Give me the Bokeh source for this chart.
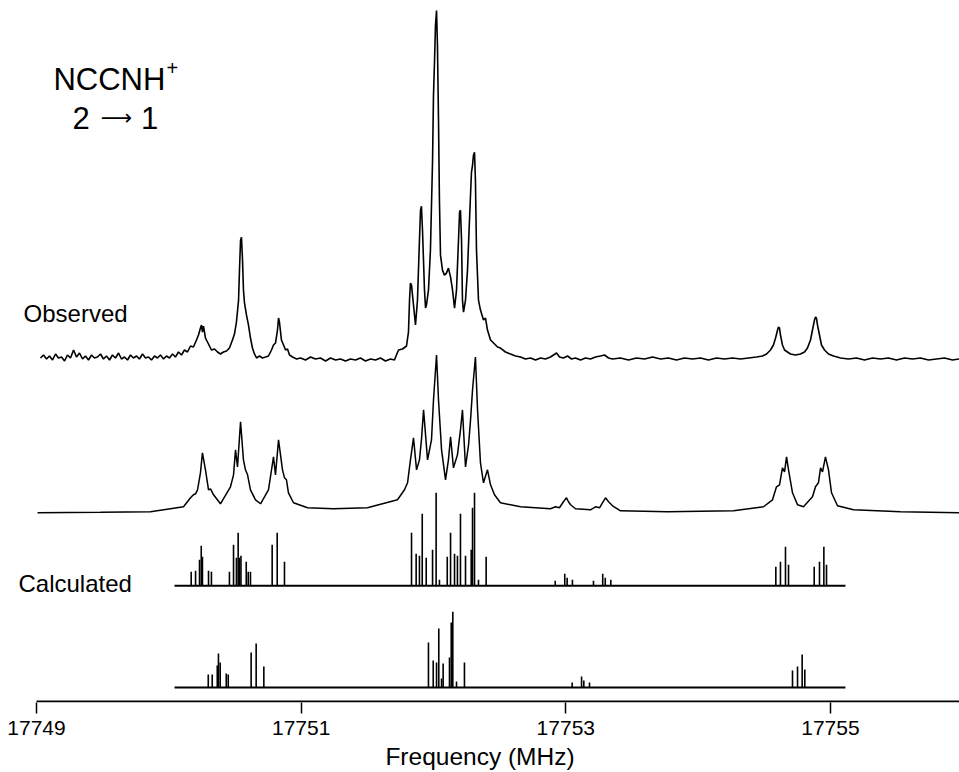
from bokeh.plotting import figure
from bokeh.models import Range1d, Label, FixedTicker
from bokeh.embed import file_html
from bokeh.resources import INLINE

# ---------------- data (frequency in MHz, intensity in arbitrary units) ----------------
tick_values = [17749, 17751, 17753, 17755]
tick_labels = ["17749", "17751", "17753", "17755"]

obs_freq = [
    17749.030, 17749.053, 17749.076, 17749.098, 17749.121, 17749.144, 17749.166, 17749.189,
    17749.212, 17749.234, 17749.257, 17749.280, 17749.302, 17749.325, 17749.348, 17749.370,
    17749.393, 17749.416, 17749.438, 17749.461, 17749.484, 17749.506, 17749.529, 17749.552,
    17749.574, 17749.597, 17749.620, 17749.642, 17749.665, 17749.688, 17749.710, 17749.733,
    17749.756, 17749.778, 17749.801, 17749.824, 17749.846, 17749.869, 17749.892, 17749.914,
    17749.937, 17749.960, 17749.982, 17750.005, 17750.028, 17750.050, 17750.073, 17750.096,
    17750.118, 17750.141, 17750.164, 17750.186, 17750.209, 17750.224, 17750.239, 17750.247,
    17750.254, 17750.262, 17750.277, 17750.292, 17750.307, 17750.322, 17750.345, 17750.368,
    17750.390, 17750.413, 17750.436, 17750.458, 17750.481, 17750.496, 17750.511, 17750.527,
    17750.534, 17750.542, 17750.549, 17750.557, 17750.564, 17750.572, 17750.587, 17750.602,
    17750.617, 17750.632, 17750.647, 17750.663, 17750.685, 17750.708, 17750.731, 17750.753,
    17750.776, 17750.791, 17750.806, 17750.821, 17750.829, 17750.836, 17750.851, 17750.867,
    17750.882, 17750.897, 17750.912, 17750.935, 17750.965, 17750.995, 17751.033, 17751.071,
    17751.108, 17751.146, 17751.184, 17751.222, 17751.260, 17751.297, 17751.335, 17751.373,
    17751.411, 17751.448, 17751.486, 17751.524, 17751.562, 17751.600, 17751.637, 17751.675,
    17751.705, 17751.720, 17751.736, 17751.766, 17751.796, 17751.811, 17751.819, 17751.826,
    17751.834, 17751.849, 17751.864, 17751.879, 17751.894, 17751.902, 17751.909, 17751.917,
    17751.932, 17751.940, 17751.947, 17751.962, 17751.977, 17751.993, 17752.000, 17752.008,
    17752.015, 17752.023, 17752.030, 17752.038, 17752.045, 17752.053, 17752.068, 17752.083,
    17752.098, 17752.113, 17752.129, 17752.144, 17752.159, 17752.174, 17752.189, 17752.197,
    17752.204, 17752.212, 17752.219, 17752.227, 17752.242, 17752.257, 17752.272, 17752.287,
    17752.295, 17752.302, 17752.310, 17752.317, 17752.325, 17752.340, 17752.355, 17752.378,
    17752.393, 17752.408, 17752.431, 17752.454, 17752.484, 17752.506, 17752.544, 17752.582,
    17752.620, 17752.658, 17752.695, 17752.733, 17752.771, 17752.809, 17752.846, 17752.884,
    17752.907, 17752.930, 17752.952, 17752.982, 17753.013, 17753.043, 17753.073, 17753.111,
    17753.149, 17753.187, 17753.224, 17753.262, 17753.292, 17753.323, 17753.353, 17753.413,
    17753.474, 17753.534, 17753.595, 17753.655, 17753.716, 17753.776, 17753.836, 17753.897,
    17753.957, 17754.018, 17754.078, 17754.139, 17754.199, 17754.260, 17754.320, 17754.381,
    17754.441, 17754.486, 17754.517, 17754.547, 17754.569, 17754.585, 17754.600, 17754.607,
    17754.615, 17754.622, 17754.637, 17754.653, 17754.675, 17754.698, 17754.736, 17754.773,
    17754.804, 17754.826, 17754.849, 17754.864, 17754.879, 17754.887, 17754.894, 17754.902,
    17754.917, 17754.932, 17754.955, 17754.985, 17755.023, 17755.076, 17755.136, 17755.197,
    17755.257, 17755.318, 17755.378, 17755.438, 17755.499, 17755.559, 17755.620, 17755.680,
    17755.741, 17755.801, 17755.862, 17755.922, 17755.975,
]
obs_int = [
    0, 3, -1, 2, -2, 4, 0, 1,
    -3, 3, 0, 8, 1, 5, -1, 2,
    -2, 3, 0, 1, 4, -1, 2, -2,
    3, 0, 5, -1, 1, -2, 3, 0,
    2, -1, 4, 0, 1, -2, 2, 0,
    3, -1, 2, 0, 4, 1, 6, 3,
    8, 6, 12, 11, 18, 23, 30, 33,
    26, 32, 20, 16, 12, 8, 9, 6,
    4, 6, 7, 10, 18, 24, 36, 58,
    88, 118, 121, 98, 68, 55, 43, 33,
    20, 10, 4, 0, 2, 0, 1, 2,
    8, 13, 15, 28, 40, 36, 18, 13,
    8, 9, 3, 1, -1, 0, -2, 1,
    -1, 0, -3, 0, -2, -1, -3, -1,
    -2, 0, -3, -1, -2, 0, -3, -1,
    -2, 3, 8, 9, 12, 26, 58, 75,
    73, 53, 33, 58, 118, 148, 152, 128,
    68, 50, 53, 68, 108, 198, 263, 298,
    333, 348, 313, 238, 158, 103, 88, 83,
    85, 90, 81, 68, 50, 68, 118, 146,
    148, 118, 58, 46, 58, 88, 138, 186,
    193, 203, 206, 178, 108, 58, 48, 38,
    40, 28, 18, 15, 11, 10, 6, 4,
    2, 1, -1, 0, -2, 0, -1, 1,
    3, 5, 1, 0, 2, -1, 0, -2,
    0, -1, 1, 2, 3, 0, -1, 0,
    -2, 0, -1, 1, -1, 0, -2, 0,
    -1, 0, -2, 0, -1, 0, -1, 0,
    1, 2, 4, 8, 13, 20, 28, 31,
    30, 23, 13, 8, 6, 4, 3, 4,
    6, 10, 18, 28, 38, 41, 40, 33,
    23, 13, 8, 4, 2, 0, -1, 0,
    -2, 0, -1, 0, -2, 0, -1, 0,
    -2, -1, 0, -2, -1,
]

sim_freq = [
    17749.008, 17749.484, 17749.861, 17750.111, 17750.164, 17750.186, 17750.202, 17750.217,
    17750.239, 17750.254, 17750.277, 17750.300, 17750.315, 17750.338, 17750.390, 17750.466,
    17750.489, 17750.504, 17750.519, 17750.542, 17750.564, 17750.579, 17750.595, 17750.617,
    17750.655, 17750.693, 17750.753, 17750.776, 17750.791, 17750.806, 17750.829, 17750.859,
    17750.874, 17750.889, 17750.904, 17750.942, 17751.048, 17751.244, 17751.501, 17751.728,
    17751.781, 17751.804, 17751.826, 17751.849, 17751.872, 17751.894, 17751.909, 17751.925,
    17751.955, 17751.970, 17751.985, 17752.000, 17752.023, 17752.038, 17752.061, 17752.091,
    17752.113, 17752.129, 17752.151, 17752.181, 17752.204, 17752.219, 17752.242, 17752.265,
    17752.280, 17752.295, 17752.317, 17752.333, 17752.355, 17752.378, 17752.408, 17752.431,
    17752.461, 17752.506, 17752.658, 17752.884, 17752.922, 17752.952, 17752.982, 17753.005,
    17753.020, 17753.036, 17753.073, 17753.187, 17753.224, 17753.255, 17753.277, 17753.300,
    17753.323, 17753.353, 17753.413, 17753.768, 17754.267, 17754.494, 17754.562, 17754.592,
    17754.615, 17754.637, 17754.653, 17754.668, 17754.683, 17754.713, 17754.751, 17754.796,
    17754.864, 17754.887, 17754.909, 17754.925, 17754.940, 17754.962, 17754.985, 17755.008,
    17755.053, 17755.174, 17755.529, 17755.975,
]
sim_int = [
    0, 0.5, 1, 6, 15, 18, 19, 23,
    40, 60, 43, 23, 24, 18, 9, 26,
    38, 63, 46, 91, 53, 43, 38, 23,
    13, 9, 23, 43, 56, 38, 73, 43,
    35, 33, 20, 10, 5, 4, 5, 13,
    23, 30, 53, 75, 43, 53, 73, 103,
    53, 63, 73, 113, 158, 113, 63, 33,
    53, 76, 45, 58, 83, 103, 46, 68,
    93, 123, 156, 103, 50, 30, 43, 28,
    18, 10, 6, 4, 6, 5, 11, 15,
    11, 8, 4, 3, 6, 5, 10, 15,
    11, 7, 2, 1, 2, 6, 13, 26,
    28, 45, 41, 56, 43, 20, 8, 6,
    16, 26, 30, 45, 41, 56, 43, 20,
    7, 3, 1, 0,
]

stick1_freq = [
    17750.169, 17750.202, 17750.232, 17750.245, 17750.254, 17750.300, 17750.322,
    17750.458, 17750.489, 17750.511, 17750.524, 17750.534, 17750.545, 17750.585,
    17750.600, 17750.617, 17750.781, 17750.819, 17750.874,
    17751.834, 17751.869, 17751.894, 17751.915, 17751.945, 17751.993, 17752.020,
    17752.045, 17752.104, 17752.129, 17752.159, 17752.181, 17752.204, 17752.242,
    17752.285, 17752.295, 17752.310, 17752.340, 17752.398,
    17752.920, 17752.992, 17753.010, 17753.050, 17753.209, 17753.279, 17753.298, 17753.340,
    17754.587, 17754.622, 17754.660, 17754.683, 17754.877, 17754.917, 17754.950, 17754.970,
]
stick1_int = [
    14, 15, 26, 40, 29, 15, 14,
    14, 41, 28, 53, 28, 30, 24,
    14, 14, 41, 53, 24,
    53, 32, 30, 72, 28, 36, 93,
    6, 29, 53, 32, 30, 72, 30,
    36, 78, 93, 6, 29,
    5, 12, 8, 6, 5, 12, 8, 6,
    19, 24, 39, 21, 19, 24, 39, 21,
]

stick2_freq = [
    17750.298, 17750.328, 17750.366, 17750.375, 17750.388, 17750.434, 17750.449,
    17750.622, 17750.660, 17750.718,
    17751.962, 17751.998, 17752.023, 17752.040, 17752.061, 17752.073, 17752.121,
    17752.134, 17752.146, 17752.174, 17752.234,
    17753.048, 17753.119, 17753.136, 17753.179,
    17754.713, 17754.751, 17754.786, 17754.806,
]
stick2_int = [
    13, 13, 22, 34, 25, 14, 13,
    35, 44, 21,
    45, 27, 25, 59, 9, 24, 30,
    65, 76, 6, 25,
    5, 11, 7, 5,
    17, 21, 33, 18,
]

stick_span = [17750.043, 17755.113]
axis_span = [17749.0, 17755.975]

# ---------------- layout constants ----------------
OBS_BASE = 345
SIM_BASE = 190
STICK1_BASE = 117
STICK2_BASE = 15
FONT = "Liberation Sans"

p = figure(width=959, height=772, output_backend="svg", toolbar_location=None,
           x_range=Range1d(17748.728, 17755.975), y_range=Range1d(0, 703),
           y_axis_location=None,
           min_border_left=0, min_border_right=0, min_border_top=0, min_border_bottom=69)
p.grid.visible = False
p.outline_line_color = None
p.background_fill_color = "white"
p.border_fill_color = "white"

ax = p.xaxis[0]
ax.ticker = FixedTicker(ticks=tick_values)
ax.major_label_overrides = {t: s for t, s in zip(tick_values, tick_labels)}
ax.axis_line_color = None
ax.major_tick_out = 11
ax.major_tick_in = 0
ax.major_tick_line_width = 1.5
ax.major_tick_line_color = "black"
ax.minor_tick_line_color = None
ax.major_label_text_font = FONT
ax.major_label_text_font_size = "21px"
ax.major_label_text_color = "black"
ax.major_label_standoff = 7
ax.axis_label = "Frequency (MHz)"
ax.axis_label_text_font = FONT
ax.axis_label_text_font_size = "24.5px"
ax.axis_label_text_font_style = "normal"
ax.axis_label_text_color = "black"
ax.axis_label_standoff = 5

# axis line (starts at the first tick)
p.line(axis_span, [1, 1], line_color="black", line_width=2)

# observed trace
p.line(obs_freq, [OBS_BASE + v for v in obs_int], line_color="black", line_width=1.6)
# calculated trace
p.line(sim_freq, [SIM_BASE + v for v in sim_int], line_color="black", line_width=1.5)

# stick spectra
p.line(stick_span, [STICK1_BASE, STICK1_BASE], line_color="black", line_width=2)
p.segment(x0=stick1_freq, y0=[STICK1_BASE] * len(stick1_freq), x1=stick1_freq,
          y1=[STICK1_BASE + v for v in stick1_int], line_color="black", line_width=1.6)
p.line(stick_span, [STICK2_BASE, STICK2_BASE], line_color="black", line_width=2)
p.segment(x0=stick2_freq, y0=[STICK2_BASE] * len(stick2_freq), x1=stick2_freq,
          y1=[STICK2_BASE + v for v in stick2_int], line_color="black", line_width=1.6)

# labels
def lab(x, y, text, size, align="left", font=FONT):
    p.add_layout(Label(x=x, y=y, text=text, text_font=font, text_font_size=size,
                       text_color="black", text_align=align, text_baseline="alphabetic"))

lab(17749.128, 624, "NCCNH", "31px")
lab(17749.982, 635, "+", "20px")
lab(17749.272, 585, "2", "31px")
lab(17749.605, 586, "\u27f6", "22px", "center", "DejaVu Sans")
lab(17749.790, 585, "1", "31px")
lab(17748.902, 390, "Observed", "24px")
lab(17748.864, 119, "Calculated", "24px")

open("out.html", "w").write(file_html(p, INLINE))
